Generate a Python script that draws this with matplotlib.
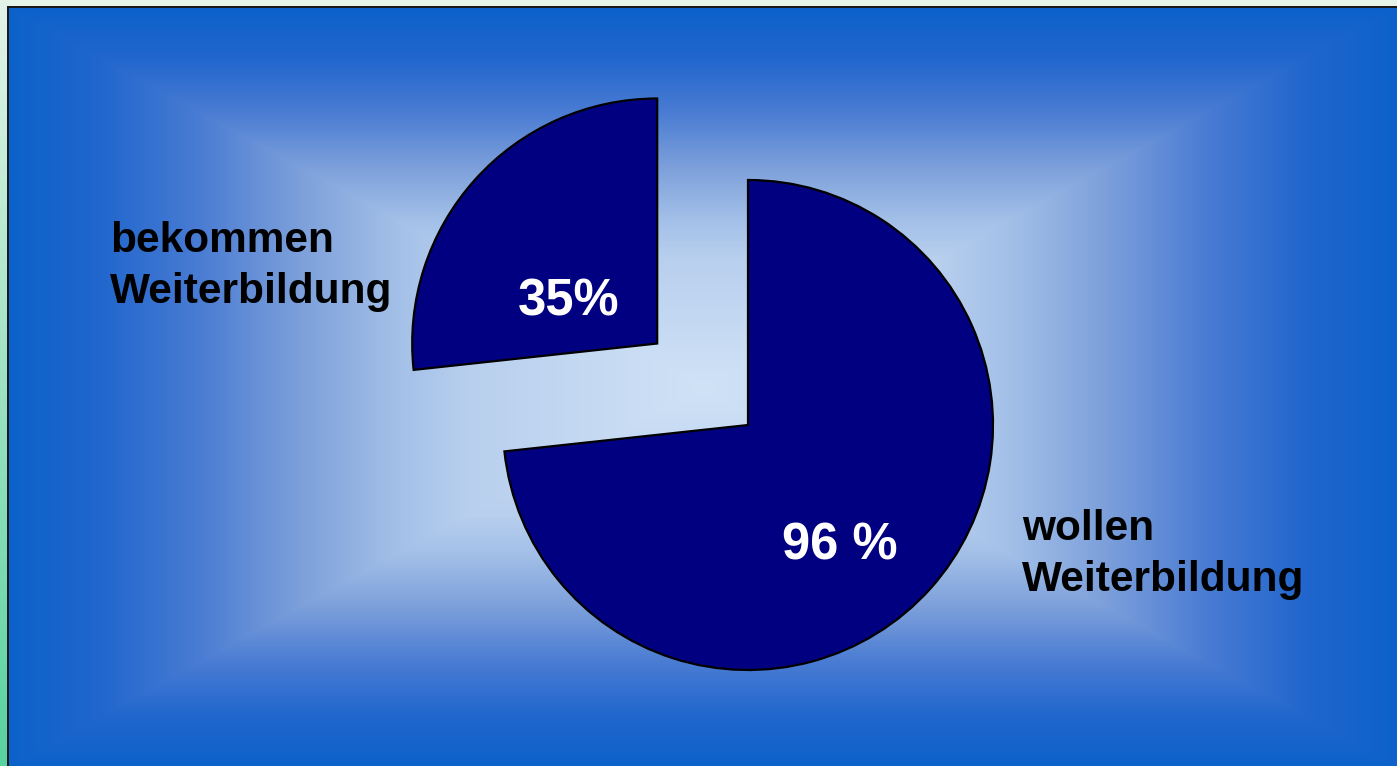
import numpy as np
import matplotlib.pyplot as plt

plt.rcParams['font.family'] = ['Liberation Sans', 'DejaVu Sans']

# Werte wie im Bild (Torte aus 96 und 35, nicht auf 100 normiert)
werte = [96, 35]
prozent_texte = ['96 %', '35%']
kategorie_zeilen = [['wollen', 'Weiterbildung'], ['bekommen', 'Weiterbildung']]

W, H = 1397, 766
fig = plt.figure(figsize=(W / 100, H / 100), dpi=100)
ax = fig.add_axes([0, 0, 1, 1])

# Hintergrund: rechteckiger Verlauf von der Mitte nach aussen
x0, y0 = 9, 8
yy, xx = np.mgrid[0:H, 0:W] + 0.5
cx, cy = (x0 + W) / 2, (y0 + H) / 2
t = np.maximum(np.abs(xx - cx) / ((W - x0) / 2), np.abs(yy - cy) / ((H - y0) / 2))
t = np.clip(t, 0, 1)
stufen = [0.0, 0.34, 0.44, 0.58, 0.725, 0.87, 1.0]
farben = np.array([[208, 226, 246], [184, 207, 238], [163, 192, 232],
                   [125, 160, 219], [74, 124, 211], [32, 102, 205],
                   [12, 98, 202]]) / 255
img = np.stack([np.interp(t, stufen, farben[:, k]) for k in range(3)], axis=-1)
# Rahmen oben / links
img[:y0, :] = np.array([230, 244, 234]) / 255
s = np.linspace(0, 1, H)[:, None]
oben = np.array([228, 243, 232]) / 255
unten = np.array([88, 210, 158]) / 255
img[:, :x0] = (oben + (unten - oben) * s)[:, None, :]
img[y0 - 2:y0, x0 - 2:] = 0.1
img[y0 - 2:, x0 - 2:x0] = 0.1
ax.imshow(img, extent=(0, W, 0, H), origin='upper', zorder=0)

wedges, _ = ax.pie(werte, startangle=90, counterclock=False,
                   center=(748, H - 425), radius=245, explode=[0, 122],
                   colors=['#000080', '#000080'],
                   wedgeprops=dict(edgecolor='black', linewidth=1.6),
                   frame=True)
for w in wedges:
    w.set_zorder(2)

# Prozentangaben in den Stuecken
versatz = [(34, -135), (-139, 28)]
for w, txt, (dx, dy) in zip(wedges, prozent_texte, versatz):
    ax.text(w.center[0] + dx, w.center[1] + dy, txt, color='white',
            fontsize=36.5, fontweight='bold', ha='left', va='baseline', zorder=3)

# Beschriftung aussen
pos = [(1022, H - 540), (110, H - 252)]
for zeilen, (lx, ly) in zip(kategorie_zeilen, pos):
    for i, z in enumerate(zeilen):
        ax.text(lx, ly - i * 51, z, color='black', fontsize=30.5,
                fontweight='bold', ha='left', va='baseline', zorder=3)

ax.set_xlim(0, W)
ax.set_ylim(0, H)
ax.axis('off')

plt.savefig('out.png', dpi=100)
